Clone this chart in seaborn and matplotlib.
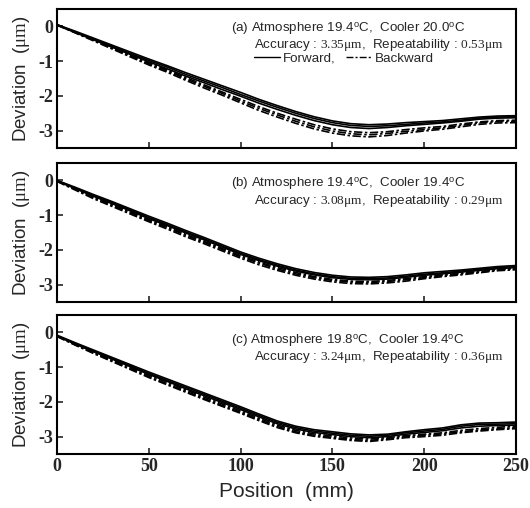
import numpy as np
import pandas as pd
import seaborn as sns
import matplotlib
matplotlib.use("Agg")
import matplotlib.pyplot as plt
from matplotlib.lines import Line2D

# Position grid (mm)
position = [0, 10, 20, 30, 40, 50, 60, 70, 80, 90, 100, 110, 120,
            130, 140, 150, 160, 170, 180, 190, 200, 210, 220, 230, 240, 250]

# (a) Atmosphere 19.4C, Cooler 20.0C
a_fwd1 = [0.05, -0.14, -0.34, -0.54, -0.74, -0.94, -1.13, -1.33, -1.52, -1.71, -1.90, -2.10, -2.28,
          -2.45, -2.60, -2.72, -2.80, -2.83, -2.81, -2.77, -2.74, -2.71, -2.66, -2.61, -2.58, -2.57]
a_fwd2 = [0.04, -0.16, -0.37, -0.57, -0.78, -0.98, -1.17, -1.38, -1.57, -1.76, -1.96, -2.15, -2.33,
          -2.50, -2.65, -2.77, -2.85, -2.88, -2.86, -2.82, -2.78, -2.75, -2.70, -2.64, -2.61, -2.60]
a_fwd3 = [0.03, -0.18, -0.39, -0.60, -0.81, -1.02, -1.22, -1.43, -1.62, -1.82, -2.01, -2.21, -2.39,
          -2.56, -2.71, -2.83, -2.91, -2.94, -2.91, -2.86, -2.82, -2.78, -2.73, -2.67, -2.64, -2.63]
a_bwd1 = [0.05, -0.17, -0.39, -0.61, -0.83, -1.05, -1.25, -1.47, -1.68, -1.89, -2.10, -2.31, -2.50,
          -2.67, -2.83, -2.95, -3.03, -3.06, -3.03, -2.97, -2.92, -2.88, -2.81, -2.75, -2.71, -2.70]
a_bwd2 = [0.04, -0.18, -0.40, -0.63, -0.85, -1.08, -1.28, -1.51, -1.72, -1.93, -2.15, -2.36, -2.55,
          -2.73, -2.89, -3.01, -3.09, -3.12, -3.08, -3.02, -2.97, -2.92, -2.85, -2.78, -2.74, -2.73]
a_bwd3 = [0.05, -0.19, -0.42, -0.65, -0.88, -1.11, -1.32, -1.55, -1.77, -1.98, -2.20, -2.42, -2.61,
          -2.79, -2.95, -3.07, -3.15, -3.18, -3.14, -3.07, -3.01, -2.96, -2.89, -2.82, -2.78, -2.77]

# (b) Atmosphere 19.4C, Cooler 19.4C
b_fwd1 = [0.00, -0.20, -0.41, -0.61, -0.82, -1.03, -1.23, -1.44, -1.64, -1.85, -2.06, -2.24, -2.40,
          -2.54, -2.65, -2.73, -2.78, -2.79, -2.77, -2.72, -2.66, -2.62, -2.58, -2.53, -2.48, -2.45]
b_fwd2 = [-0.01, -0.22, -0.44, -0.64, -0.85, -1.07, -1.27, -1.48, -1.68, -1.89, -2.10, -2.28, -2.44,
          -2.58, -2.69, -2.77, -2.82, -2.83, -2.81, -2.76, -2.70, -2.66, -2.61, -2.56, -2.51, -2.48]
b_fwd3 = [-0.02, -0.24, -0.46, -0.67, -0.88, -1.10, -1.30, -1.51, -1.71, -1.92, -2.13, -2.31, -2.47,
          -2.61, -2.72, -2.80, -2.85, -2.86, -2.84, -2.79, -2.73, -2.69, -2.64, -2.59, -2.54, -2.51]
b_bwd1 = [-0.01, -0.25, -0.48, -0.69, -0.91, -1.13, -1.33, -1.55, -1.75, -1.96, -2.17, -2.35, -2.51,
          -2.65, -2.77, -2.85, -2.90, -2.91, -2.88, -2.83, -2.77, -2.72, -2.67, -2.62, -2.56, -2.53]
b_bwd2 = [-0.02, -0.26, -0.50, -0.72, -0.94, -1.16, -1.36, -1.58, -1.78, -1.99, -2.20, -2.38, -2.55,
          -2.69, -2.80, -2.88, -2.93, -2.94, -2.91, -2.86, -2.80, -2.74, -2.69, -2.64, -2.58, -2.55]
b_bwd3 = [-0.03, -0.28, -0.53, -0.75, -0.97, -1.19, -1.40, -1.62, -1.82, -2.03, -2.24, -2.43, -2.59,
          -2.73, -2.84, -2.92, -2.97, -2.98, -2.95, -2.90, -2.83, -2.77, -2.72, -2.66, -2.60, -2.57]

# (c) Atmosphere 19.8C, Cooler 19.4C
c_fwd1 = [-0.08, -0.30, -0.51, -0.72, -0.93, -1.14, -1.34, -1.54, -1.74, -1.94, -2.14, -2.35, -2.55,
          -2.70, -2.80, -2.86, -2.92, -2.95, -2.93, -2.86, -2.80, -2.75, -2.66, -2.61, -2.60, -2.58]
c_fwd2 = [-0.10, -0.32, -0.54, -0.75, -0.96, -1.18, -1.38, -1.58, -1.78, -1.98, -2.18, -2.39, -2.59,
          -2.74, -2.84, -2.90, -2.96, -2.99, -2.96, -2.89, -2.84, -2.79, -2.70, -2.65, -2.64, -2.63]
c_fwd3 = [-0.11, -0.34, -0.56, -0.77, -0.99, -1.21, -1.41, -1.62, -1.82, -2.02, -2.22, -2.43, -2.63,
          -2.78, -2.88, -2.94, -3.00, -3.03, -3.00, -2.93, -2.88, -2.83, -2.75, -2.70, -2.68, -2.67]
c_bwd1 = [-0.10, -0.34, -0.57, -0.79, -1.01, -1.23, -1.44, -1.65, -1.86, -2.06, -2.26, -2.47, -2.67,
          -2.82, -2.92, -2.98, -3.04, -3.07, -3.03, -2.97, -2.93, -2.89, -2.82, -2.77, -2.73, -2.70]
c_bwd2 = [-0.11, -0.36, -0.59, -0.82, -1.04, -1.27, -1.48, -1.69, -1.90, -2.10, -2.30, -2.51, -2.71,
          -2.86, -2.96, -3.02, -3.08, -3.11, -3.06, -3.00, -2.96, -2.92, -2.86, -2.81, -2.77, -2.74]
c_bwd3 = [-0.12, -0.37, -0.61, -0.84, -1.07, -1.30, -1.51, -1.72, -1.93, -2.13, -2.33, -2.54, -2.74,
          -2.89, -2.99, -3.05, -3.11, -3.14, -3.09, -3.03, -3.00, -2.96, -2.89, -2.84, -2.80, -2.77]

panel_titles = [r"(a) Atmosphere 19.4$^{\mathregular{o}}$C,  Cooler 20.0$^{\mathregular{o}}$C",
                r"(b) Atmosphere 19.4$^{\mathregular{o}}$C,  Cooler 19.4$^{\mathregular{o}}$C",
                r"(c) Atmosphere 19.8$^{\mathregular{o}}$C,  Cooler 19.4$^{\mathregular{o}}$C"]
accuracy = ["3.35", "3.08", "3.24"]
repeatability = ["0.53", "0.29", "0.36"]

runs = {
    "a": {"Forward": [a_fwd1, a_fwd2, a_fwd3], "Backward": [a_bwd1, a_bwd2, a_bwd3]},
    "b": {"Forward": [b_fwd1, b_fwd2, b_fwd3], "Backward": [b_bwd1, b_bwd2, b_bwd3]},
    "c": {"Forward": [c_fwd1, c_fwd2, c_fwd3], "Backward": [c_bwd1, c_bwd2, c_bwd3]},
}

# long table for seaborn
rows = []
for panel, dirs in runs.items():
    for direction, curves in dirs.items():
        for i, curve in enumerate(curves):
            for x, y in zip(position, curve):
                rows.append((panel, direction, f"{direction}{i}", x, y))
df = pd.DataFrame(rows, columns=["panel", "direction", "run", "position", "deviation"])

sns.set_theme(style="ticks")
plt.rcParams["font.family"] = ["Liberation Sans", "DejaVu Sans"]
plt.rcParams["mathtext.fontset"] = "custom"
plt.rcParams["mathtext.rm"] = "Liberation Serif"
plt.rcParams["mathtext.it"] = "Liberation Serif:italic"
plt.rcParams["mathtext.bf"] = "Liberation Serif:bold"
plt.rcParams["axes.unicode_minus"] = False

fig = plt.figure(figsize=(5.3, 5.08), dpi=100)
left, width = 57 / 530, 459 / 530
bottoms = [(508 - 148) / 508, (508 - 302) / 508, (508 - 454) / 508]
height = 139 / 508

dash_styles = {"Forward": "", "Backward": (5, 1.5, 1.5, 1.5)}
title_y = [0.857, 0.849, 0.813]
acc_y = [0.743, 0.727, 0.698]
txt_size = 9.6

for k, panel in enumerate(["a", "b", "c"]):
    ax = fig.add_axes([left, bottoms[k], width, height])
    sns.lineplot(data=df[df.panel == panel], x="position", y="deviation",
                 units="run", estimator=None, style="direction",
                 dashes=dash_styles, color="black", linewidth=1.2,
                 legend=False, ax=ax)
    ax.set_xlim(0, 250)
    ax.set_ylim(-3.5, 0.5)
    ax.set_yticks([0, -1, -2, -3])
    ax.set_xticks([0, 50, 100, 150, 200, 250])
    ax.tick_params(direction="in", length=4, width=1.2, labelsize=13, pad=3)
    for lab in ax.get_xticklabels() + ax.get_yticklabels():
        lab.set_fontfamily("Liberation Serif")
        lab.set_fontweight("bold")
    for s in ax.spines.values():
        s.set_linewidth(1.5)
        s.set_color("black")
    if k < 2:
        ax.set_xticklabels([])
        ax.set_xlabel("")
    else:
        ax.set_xlabel("Position  (mm)", fontsize=15)
        ax.xaxis.set_label_coords(0.5, -0.2)
    ax.set_ylabel(r"Deviation  ($\mathrm{\mu m}$)", fontsize=13.5)
    ax.yaxis.set_label_coords(-0.055, 0.5)

    ax.text(0.38, title_y[k], panel_titles[k], transform=ax.transAxes,
            fontsize=txt_size, va="center", ha="left")
    ax.text(0.43, acc_y[k],
            f"Accuracy : $\\mathrm{{{accuracy[k]}\\mu m}}$,  Repeatability : $\\mathrm{{{repeatability[k]}\\mu m}}$",
            transform=ax.transAxes, fontsize=txt_size, va="center", ha="left")

    if panel == "a":
        handles = [Line2D([], [], color="black", lw=1.0),
                   Line2D([], [], color="black", lw=1.0, dashes=(5, 1.5, 1.5, 1.5))]
        ax.legend(handles, ["Forward,", "Backward"], loc="center left",
                  bbox_to_anchor=(0.43, 0.643), ncol=2, frameon=False,
                  fontsize=txt_size, borderpad=0, borderaxespad=0,
                  handlelength=1.9, handletextpad=0.25, columnspacing=0.75)

fig.savefig("out.png", dpi=100)
